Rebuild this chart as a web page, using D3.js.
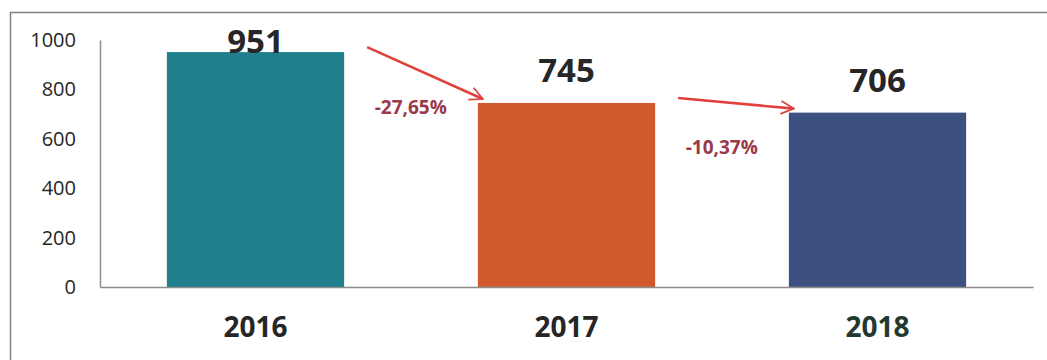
<!doctype html>
<html>
<head>
<meta charset="utf-8">
<title>Bar chart 2016-2018</title>
<script src="https://cdn.jsdelivr.net/npm/d3@7"></script>
<style>
  body { margin: 0; background: #fff; }
  svg { display: block; }
</style>
</head>
<body>
<script>

    var years = ["2016", "2017", "2018"];
    var values = [951, 745, 706];
    var changes = ["-27,65%", "-10,37%"];
    var yTicks = [0, 200, 400, 600, 800, 1000];
    var barColors = ["#1f7f8c", "#d05a2c", "#3d5181"];
    var yearColors = ["#262626", "#262626", "#24392e"];

    var width = 1047, height = 360;

    var svg = d3.select("body").append("svg")
        .attr("width", width)
        .attr("height", height);

    // frame (scanned, only top and left edges visible)
    svg.append("line")
        .attr("x1", 10).attr("y1", 12.5)
        .attr("x2", width).attr("y2", 12.5)
        .attr("stroke", "#808080").attr("stroke-width", 1.5);
    svg.append("line")
        .attr("x1", 10.5).attr("y1", 12)
        .attr("x2", 10.5).attr("y2", height)
        .attr("stroke", "#808080").attr("stroke-width", 1.5);

    var x = d3.scaleBand()
        .domain(years)
        .range([100, 1033])
        .paddingInner(0.43)
        .paddingOuter(0.215);

    var y = d3.scaleLinear()
        .domain([0, 1000])
        .range([287, 40]);

    // bars
    svg.selectAll("rect.bar")
        .data(values)
        .enter().append("rect")
        .attr("class", "bar")
        .attr("x", function(d, i) { return x(years[i]); })
        .attr("y", function(d) { return y(d); })
        .attr("width", x.bandwidth())
        .attr("height", function(d) { return y(0) - y(d); })
        .attr("fill", function(d, i) { return barColors[i]; });

    // y axis
    var yAxis = d3.axisLeft(y)
        .tickValues(yTicks)
        .tickSize(0)
        .tickPadding(24)
        .tickFormat(d3.format("d"));

    var gy = svg.append("g")
        .attr("transform", "translate(100,0)")
        .call(yAxis);
    gy.select(".domain").attr("stroke", "#8c8c8c").attr("stroke-width", 1.5);
    gy.selectAll("text")
        .attr("font-family", "Open Sans, sans-serif")
        .attr("font-size", "20px")
        .attr("fill", "#262626");

    // x axis
    var xAxis = d3.axisBottom(x).tickSize(0).tickPadding(30);
    var gx = svg.append("g")
        .attr("transform", "translate(0," + y(0) + ")")
        .call(xAxis);
    gx.select(".domain").attr("stroke", "#8c8c8c").attr("stroke-width", 1.5);
    gx.selectAll("text")
        .attr("font-family", "Open Sans, sans-serif")
        .attr("font-size", "28px")
        .attr("font-weight", "bold")
        .attr("fill", function(d, i) { return yearColors[i]; });

    // value labels
    svg.selectAll("text.val")
        .data(values)
        .enter().append("text")
        .attr("class", "val")
        .attr("x", function(d, i) { return x(years[i]) + x.bandwidth() / 2; })
        .attr("y", function(d) { return Math.max(y(d) - 21, 53); })
        .attr("text-anchor", "middle")
        .attr("font-family", "Open Sans, sans-serif")
        .attr("font-size", "33px")
        .attr("font-weight", "bold")
        .attr("fill", "#262626")
        .text(function(d) { return d; });

    // arrows between bars
    var defs = svg.append("defs");
    defs.append("marker")
        .attr("id", "arrow")
        .attr("viewBox", "0 0 12 12")
        .attr("refX", 11).attr("refY", 6)
        .attr("markerWidth", 6).attr("markerHeight", 6)
        .attr("markerUnits", "strokeWidth")
        .attr("orient", "auto")
        .append("path")
        .attr("d", "M1,1 L11,6 L1,11")
        .attr("fill", "none")
        .attr("stroke", "#e0413c")
        .attr("stroke-width", 1.3);

    for (var i = 0; i < changes.length; i++) {
        var x0 = x(years[i]) + x.bandwidth() + 23;
        var y0 = y(values[i]) - 5;
        var x1 = x(years[i + 1]) + 5;
        var y1 = y(values[i + 1]) - 4;
        svg.append("line")
            .attr("x1", x0).attr("y1", y0)
            .attr("x2", x1).attr("y2", y1)
            .attr("stroke", "#e0413c")
            .attr("stroke-width", 2.6)
            .attr("marker-end", "url(#arrow)");

        svg.append("text")
            .attr("x", x(years[i + 1]) - 31)
            .attr("y", i === 0 ? 114 : 154)
            .attr("text-anchor", "end")
            .attr("font-family", "Open Sans, sans-serif")
            .attr("font-size", "19px")
            .attr("font-weight", "bold")
            .attr("fill", "#9a3a48")
            .text(changes[i]);
    }

</script>
</body>
</html>
